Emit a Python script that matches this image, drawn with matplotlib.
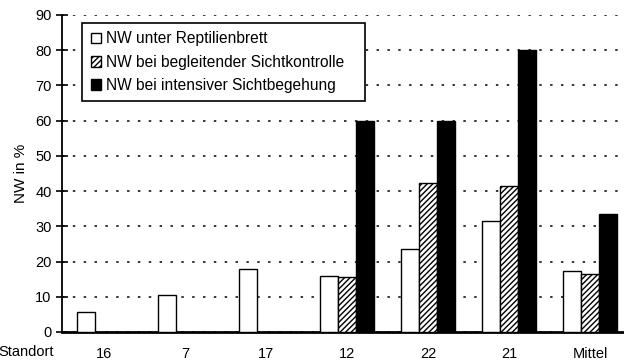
import numpy as np
import matplotlib
matplotlib.use("Agg")
import matplotlib.pyplot as plt
from matplotlib.patches import Patch

plt.rcParams["font.family"] = ["Liberation Sans", "DejaVu Sans"]
plt.rcParams["hatch.linewidth"] = 1.0

# ---------------------------------------------------------------- data (NW in %)
standorte = ["16", "7", "17", "12", "22", "21", "Mittel"]
brett = [5.7, 10.5, 17.8, 15.9, 23.6, 31.6, 17.4]                       # unter Reptilienbrett
begleitend = [np.nan, np.nan, np.nan, 15.7, 42.2, 41.4, 16.5]           # begleitende Sichtkontrolle
intensiv = [np.nan, np.nan, np.nan, 60.0, 60.0, 80.0, 33.4]             # intensive Sichtbegehung
yticks = [0, 10, 20, 30, 40, 50, 60, 70, 80, 90]

labels = ["NW unter Reptilienbrett",
          "NW bei begleitender Sichtkontrolle",
          "NW bei intensiver Sichtbegehung"]

# ---------------------------------------------------------------- canvas
fig = plt.figure(figsize=(6.24, 3.62), dpi=100)
ax = fig.add_axes([0.0994, 0.0829, 0.9006, 0.8757])

x = np.arange(len(standorte))
w = 0.222

ax.bar(x - w, brett, w, facecolor="white", edgecolor="black", linewidth=1.0, zorder=3)
ax.bar(x, begleitend, w, facecolor="white", edgecolor="black", linewidth=1.0,
       hatch="//////", zorder=3)
ax.bar(x + w, intensiv, w, facecolor="black", edgecolor="black", linewidth=1.0, zorder=3)

# ---------------------------------------------------------------- axes
ax.set_xlim(-0.5185, 6.42)
ax.set_ylim(0, 90)
ax.set_yticks(yticks)
ax.set_xticks(x)
ax.set_xticklabels(standorte, fontsize=10.5)
ax.tick_params(axis="x", length=0, pad=11)
ax.tick_params(axis="y", direction="inout", length=9, width=1.2, labelsize=10.5, pad=3)
ax.yaxis.grid(True, linestyle=(0, (1.6, 5.5)), color="black", linewidth=1.1)
ax.set_axisbelow(True)
for side in ("top", "right"):
    ax.spines[side].set_visible(False)
ax.spines["left"].set_linewidth(1.3)
ax.spines["bottom"].set_linewidth(2.0)
ax.set_ylabel("NW in %", fontsize=11)
ax.yaxis.set_label_coords(-0.061, 0.5)

fig.text(0.042, 0.028, "Standort", ha="center", va="center", fontsize=10.5)

# ---------------------------------------------------------------- legend (white box over the grid)
handles = [
    Patch(facecolor="white", edgecolor="black", linewidth=1.0, label=labels[0]),
    Patch(facecolor="white", edgecolor="black", linewidth=1.0, hatch="//////", label=labels[1]),
    Patch(facecolor="black", edgecolor="black", linewidth=1.0, label=labels[2]),
]
leg = ax.legend(handles=handles, loc="upper left",
                bbox_to_anchor=(0.0356, 0.975, 0.5036, 0.0), mode="expand",
                fontsize=11.2, frameon=True, fancybox=False, framealpha=1,
                edgecolor="black", handlelength=0.7, handleheight=0.7,
                handletextpad=0.3, labelspacing=0.52, borderpad=0.55,
                borderaxespad=0)
leg.get_frame().set_linewidth(1.2)
leg.set_zorder(5)

fig.savefig("out.png", dpi=100)
